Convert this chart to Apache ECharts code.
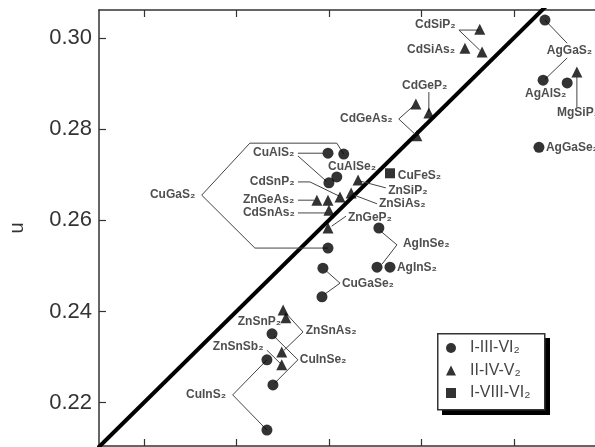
<!DOCTYPE html>
<html>
<head>
<meta charset="utf-8">
<script src="https://cdn.jsdelivr.net/npm/echarts@6/dist/echarts.min.js"></script>
<style>
html,body{margin:0;padding:0;background:#fff;}
#chart{width:595px;height:447px;}
</style>
</head>
<body>
<div id="chart"></div>
<script>
// ---- data ----
const tickValues = [0.22, 0.24, 0.26, 0.28, 0.30];
const seriesNames = ['I-III-VI\u2082', 'II-IV-V\u2082', 'I-VIII-VI\u2082'];

// I-III-VI2 (circles) [x, u]
const circleData = [
  [0.3067, 0.3039], [0.3063, 0.2907], [0.3115, 0.2901], [0.3054, 0.2760],
  [0.2598, 0.2747], [0.2632, 0.2745], [0.2600, 0.2682], [0.2617, 0.2695],
  [0.2598, 0.2539], [0.2708, 0.2583], [0.2704, 0.2497], [0.2732, 0.2497],
  [0.2587, 0.2495], [0.2585, 0.2432], [0.2477, 0.2351], [0.2479, 0.2239],
  [0.2466, 0.2294], [0.2466, 0.2140]
];
// II-IV-V2 (triangles)
const triangleData = [
  [0.2926, 0.3019], [0.2894, 0.2977], [0.2931, 0.2969], [0.3136, 0.2925],
  [0.2788, 0.2855], [0.2816, 0.2835], [0.2790, 0.2785], [0.2663, 0.2688],
  [0.2648, 0.2660], [0.2624, 0.2651], [0.2574, 0.2644], [0.2598, 0.2644],
  [0.2600, 0.2622], [0.2598, 0.2583], [0.2501, 0.2403], [0.2507, 0.2386],
  [0.2498, 0.2311], [0.2498, 0.2283]
];
// I-VIII-VI2 (squares)
const squareData = [[0.2732, 0.2703]];

// diagonal u = u line
const diagonal = [[0.20, 0.20], [0.33, 0.33]];

// compound labels: [x (left edge), u (centre), text]
const compoundLabels = [
  [0.2786, 0.3028, 'CdSiP\u2082'], [0.2769, 0.2975, 'CdSiAs\u2082'],
  [0.2758, 0.2896, 'CdGeP\u2082'], [0.2624, 0.2822, 'CdGeAs\u2082'],
  [0.3071, 0.2971, 'AgGaS\u2082'], [0.3024, 0.2877, 'AgAlS\u2082'],
  [0.3093, 0.2835, 'MgSiP\u2082'], [0.3069, 0.2760, 'AgGaSe\u2082'],
  [0.2436, 0.2749, 'CuAlS\u2082'], [0.2598, 0.2717, 'CuAlSe\u2082'],
  [0.2749, 0.2697, 'CuFeS\u2082'], [0.2429, 0.2684, 'CdSnP\u2082'],
  [0.2728, 0.2664, 'ZnSiP\u2082'], [0.2414, 0.2644, 'ZnGeAs\u2082'],
  [0.2213, 0.2657, 'CuGaS\u2082'], [0.2708, 0.2636, 'ZnSiAs\u2082'],
  [0.2414, 0.2616, 'CdSnAs\u2082'], [0.2641, 0.2605, 'ZnGeP\u2082'],
  [0.2760, 0.2548, 'AgInSe\u2082'], [0.2747, 0.2497, 'AgInS\u2082'],
  [0.2628, 0.2460, 'CuGaSe\u2082'], [0.2403, 0.2377, 'ZnSnP\u2082'],
  [0.2550, 0.2357, 'ZnSnAs\u2082'], [0.2349, 0.2322, 'ZnSnSb\u2082'],
  [0.2537, 0.2294, 'CuInSe\u2082'], [0.2291, 0.2217, 'CuInS\u2082']
];

// leader lines (polylines in data units)
const leaders = [
  [[0.2881, 0.3017], [0.2924, 0.3017]],
  [[0.2881, 0.3017], [0.2926, 0.2973]],
  [[0.3067, 0.3039], [0.3115, 0.2988]],
  [[0.3115, 0.2956], [0.3067, 0.2909]],
  [[0.3136, 0.2914], [0.3136, 0.2848]],
  [[0.2816, 0.2881], [0.2816, 0.2837]],
  [[0.2782, 0.2850], [0.2751, 0.2822], [0.2788, 0.2787]],
  [[0.2533, 0.2747], [0.2587, 0.2747]],
  [[0.2533, 0.2741], [0.2594, 0.2686]],
  [[0.2632, 0.2745], [0.2617, 0.2769], [0.2429, 0.2769], [0.2325, 0.2655], [0.2440, 0.2539], [0.2598, 0.2539]],
  [[0.2533, 0.2684], [0.2559, 0.2684], [0.2622, 0.2653]],
  [[0.2704, 0.2636], [0.2650, 0.2657]],
  [[0.2723, 0.2671], [0.2667, 0.2686]],
  [[0.2533, 0.2644], [0.2568, 0.2644]],
  [[0.2533, 0.2616], [0.2594, 0.2616]],
  [[0.2606, 0.2587], [0.2637, 0.2609]],
  [[0.2712, 0.2576], [0.2747, 0.2546], [0.2715, 0.2504]],
  [[0.2594, 0.2489], [0.2624, 0.2462], [0.2591, 0.2438]],
  [[0.2509, 0.2394], [0.2544, 0.2355], [0.2503, 0.2315]],
  [[0.2481, 0.2346], [0.2533, 0.2294], [0.2483, 0.2243]],
  [[0.2466, 0.2315], [0.2496, 0.2285]],
  [[0.2466, 0.2294], [0.2392, 0.2217], [0.2466, 0.2140]]
];

// ---- chart ----
const chart = echarts.init(document.getElementById('chart'), null, {renderer: 'canvas'});
const axisColor = '#333';
const fontFam = '"Liberation Sans", Arial, Helvetica, sans-serif';

function xAxisCfg(pos) {
  return {
    type: 'value', position: pos, min: 0.2103, max: 0.3240,
    axisLine: {show: true, onZero: false, lineStyle: {color: axisColor, width: 1.5}},
    axisTick: {show: true, inside: true, length: 7, customValues: tickValues, lineStyle: {color: axisColor, width: 1.2}},
    axisLabel: {show: false},
    splitLine: {show: false}
  };
}

const option = {
  animation: false,
  backgroundColor: '#fff',
  grid: {left: 99, top: 10, width: 526, bottom: 1, containLabel: false, outerBoundsMode: 'none'},
  xAxis: [xAxisCfg('bottom'), xAxisCfg('top')],
  yAxis: {
    type: 'value', min: 0.2105, max: 0.3061,
    name: 'u', nameLocation: 'middle', nameGap: 72, nameRotate: 90,
    nameTextStyle: {fontSize: 20, color: '#333', fontFamily: fontFam},
    axisLine: {show: true, onZero: false, lineStyle: {color: axisColor, width: 1.5}},
    axisTick: {show: true, inside: true, length: 7, customValues: tickValues, lineStyle: {color: axisColor, width: 1.2}},
    axisLabel: {show: true, customValues: tickValues, fontSize: 22, color: '#333', margin: 7,
      fontFamily: fontFam, formatter: v => v.toFixed(2)},
    splitLine: {show: false}
  },
  graphic: [
    {type: 'rect', left: 442, top: 338, shape: {width: 108, height: 77}, style: {fill: '#000'}, z: 10},
    {type: 'rect', left: 437, top: 333, shape: {width: 107, height: 76},
      style: {fill: '#fff', stroke: '#333', lineWidth: 1.5}, z: 11}
  ],
  legend: {
    left: 446, top: 340, orient: 'vertical', z: 20,
    data: [
      {name: seriesNames[0], icon: 'circle'},
      {name: seriesNames[1], icon: 'triangle'},
      {name: seriesNames[2], icon: 'rect'}
    ],
    itemWidth: 10, itemHeight: 10, itemGap: 6.5,
    padding: 0,
    selectedMode: false,
    itemStyle: {color: '#000'},
    textStyle: {fontSize: 16, color: '#444', lineHeight: 16, fontFamily: fontFam, padding: [0, 0, 0, 9]}
  },
  series: [
    {
      type: 'line', name: 'diagonal', data: diagonal, showSymbol: false, symbol: 'none',
      clip: true, lineStyle: {color: '#000', width: 4}, z: 2, silent: true
    },
    {
      type: 'lines', coordinateSystem: 'cartesian2d', polyline: true,
      data: leaders.map(c => ({coords: c})),
      lineStyle: {color: '#444', width: 1, opacity: 1}, z: 3, silent: true
    },
    {
      type: 'scatter', name: seriesNames[0], data: circleData, symbol: 'circle', symbolSize: 11,
      itemStyle: {color: '#000'}, z: 5
    },
    {
      type: 'scatter', name: seriesNames[1], data: triangleData, symbol: 'triangle', symbolSize: 11,
      itemStyle: {color: '#000'}, z: 5
    },
    {
      type: 'scatter', name: seriesNames[2], data: squareData, symbol: 'rect', symbolSize: 10,
      itemStyle: {color: '#000'}, z: 5
    },
    {
      type: 'scatter', name: 'labels', symbolSize: 1, itemStyle: {color: 'rgba(0,0,0,0)'},
      data: compoundLabels.map(l => ({value: [l[0], l[1]], name: l[2]})),
      label: {show: true, position: 'inside', align: 'left', verticalAlign: 'middle',
        formatter: '{b}', fontSize: 12, fontWeight: 'bold', color: '#222', fontFamily: fontFam},
      z: 6, silent: true
    }
  ]
};
chart.setOption(option);
</script>
</body>
</html>
